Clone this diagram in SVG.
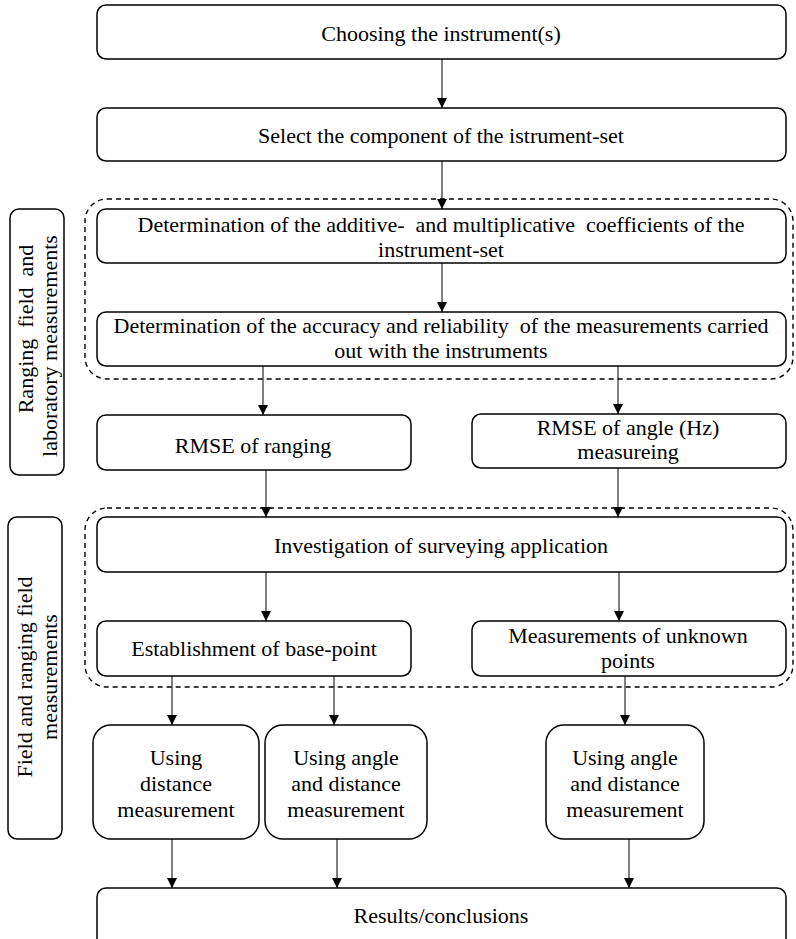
<svg xmlns="http://www.w3.org/2000/svg" width="796" height="939" viewBox="0 0 796 939" font-family="Liberation Serif, Times New Roman, serif">
<style>
.box{fill:#fff;stroke:#000;stroke-width:1.5}
.grp{fill:none;stroke:#000;stroke-width:1.4;stroke-dasharray:5,4}
.t{font-size:22px;fill:#000;text-anchor:middle}
.c{stroke:#000;stroke-width:1;fill:none;marker-end:url(#ah)}
</style>
<defs>
<marker id="ah" viewBox="0 0 10 10" refX="10" refY="5" markerWidth="10" markerHeight="10" markerUnits="userSpaceOnUse" orient="auto">
<path d="M0,0 L10,5 L0,10 z" fill="#000"/>
</marker>
</defs>
<rect x="0" y="0" width="796" height="939" fill="#fff"/>
<g id="groups">
<rect class="grp" x="85" y="199" width="708" height="180" rx="22"/>
<rect class="grp" x="85" y="508" width="708" height="179" rx="22"/>
</g>
<g id="connectors">
<line class="c" x1="442" y1="59" x2="442" y2="108"/>
<line class="c" x1="442" y1="161" x2="442" y2="209"/>
<line class="c" x1="442" y1="263" x2="442" y2="312"/>
<line class="c" x1="263" y1="366" x2="263" y2="415"/>
<line class="c" x1="618" y1="366" x2="618" y2="414"/>
<line class="c" x1="266" y1="470" x2="266" y2="517"/>
<line class="c" x1="618" y1="468" x2="618" y2="517"/>
<line class="c" x1="266" y1="572" x2="266" y2="621"/>
<line class="c" x1="619" y1="572" x2="619" y2="621"/>
<line class="c" x1="172" y1="676" x2="172" y2="725"/>
<line class="c" x1="334" y1="676" x2="334" y2="725"/>
<line class="c" x1="625" y1="676" x2="625" y2="725"/>
<line class="c" x1="172" y1="839" x2="172" y2="888"/>
<line class="c" x1="337" y1="839" x2="337" y2="888"/>
<line class="c" x1="629" y1="839" x2="629" y2="888"/>
</g>
<g id="n1"><rect class="box" x="97" y="5" width="689" height="54" rx="9"/><text class="t" x="441" y="41">Choosing the instrument(s)</text></g>
<g id="n2"><rect class="box" x="97" y="108" width="689" height="53" rx="9"/><text class="t" x="441" y="143">Select the component of the istrument-set</text></g>
<g id="n3"><rect class="box" x="97" y="209" width="689" height="54" rx="9"/><text class="t" x="441" y="232" xml:space="preserve">Determination of the additive-  and multiplicative  coefficients of the</text><text class="t" x="441" y="257">instrument-set</text></g>
<g id="n4"><rect class="box" x="97" y="312" width="689" height="54" rx="9"/><text class="t" x="441" y="333" xml:space="preserve">Determination of the accuracy and reliability  of the measurements carried</text><text class="t" x="441" y="358">out with the instruments</text></g>
<g id="n5"><rect class="box" x="97" y="415" width="314" height="55" rx="9"/><text class="t" x="253" y="453">RMSE of ranging</text></g>
<g id="n6"><rect class="box" x="472" y="414" width="314" height="54" rx="9"/><text class="t" x="628" y="435">RMSE of angle (Hz)</text><text class="t" x="628" y="459">measureing</text></g>
<g id="n7"><rect class="box" x="97" y="517" width="689" height="55" rx="9"/><text class="t" x="441" y="553">Investigation of surveying application</text></g>
<g id="n8"><rect class="box" x="97" y="621" width="314" height="55" rx="9"/><text class="t" x="254" y="656">Establishment of base-point</text></g>
<g id="n9"><rect class="box" x="472" y="621" width="314" height="55" rx="9"/><text class="t" x="628" y="643">Measurements of unknown</text><text class="t" x="628" y="668">points</text></g>
<g id="n10"><rect class="box" x="93" y="725" width="166" height="114" rx="18"/><text class="t" x="176" y="765">Using</text><text class="t" x="176" y="791">distance</text><text class="t" x="176" y="817">measurement</text></g>
<g id="n11"><rect class="box" x="265" y="725" width="162" height="114" rx="18"/><text class="t" x="346" y="765">Using angle</text><text class="t" x="346" y="791">and distance</text><text class="t" x="346" y="817">measurement</text></g>
<g id="n12"><rect class="box" x="546" y="725" width="158" height="114" rx="18"/><text class="t" x="625" y="765">Using angle</text><text class="t" x="625" y="791">and distance</text><text class="t" x="625" y="817">measurement</text></g>
<g id="n13"><rect class="box" x="97" y="888" width="689" height="60" rx="9"/><text class="t" x="441" y="923">Results/conclusions</text></g>
<g id="lab1"><rect class="box" x="10" y="209" width="54" height="266" rx="9"/><text class="t" transform="translate(33,329) rotate(-90)" xml:space="preserve">Ranging  field  and</text><text class="t" transform="translate(57,346) rotate(-90)">laboratory measurements</text></g>
<g id="lab2"><rect class="box" x="8" y="517" width="54" height="322" rx="9"/><text class="t" transform="translate(32,677) rotate(-90)">Field and ranging field</text><text class="t" transform="translate(57,677) rotate(-90)">measurements</text></g>
</svg>
